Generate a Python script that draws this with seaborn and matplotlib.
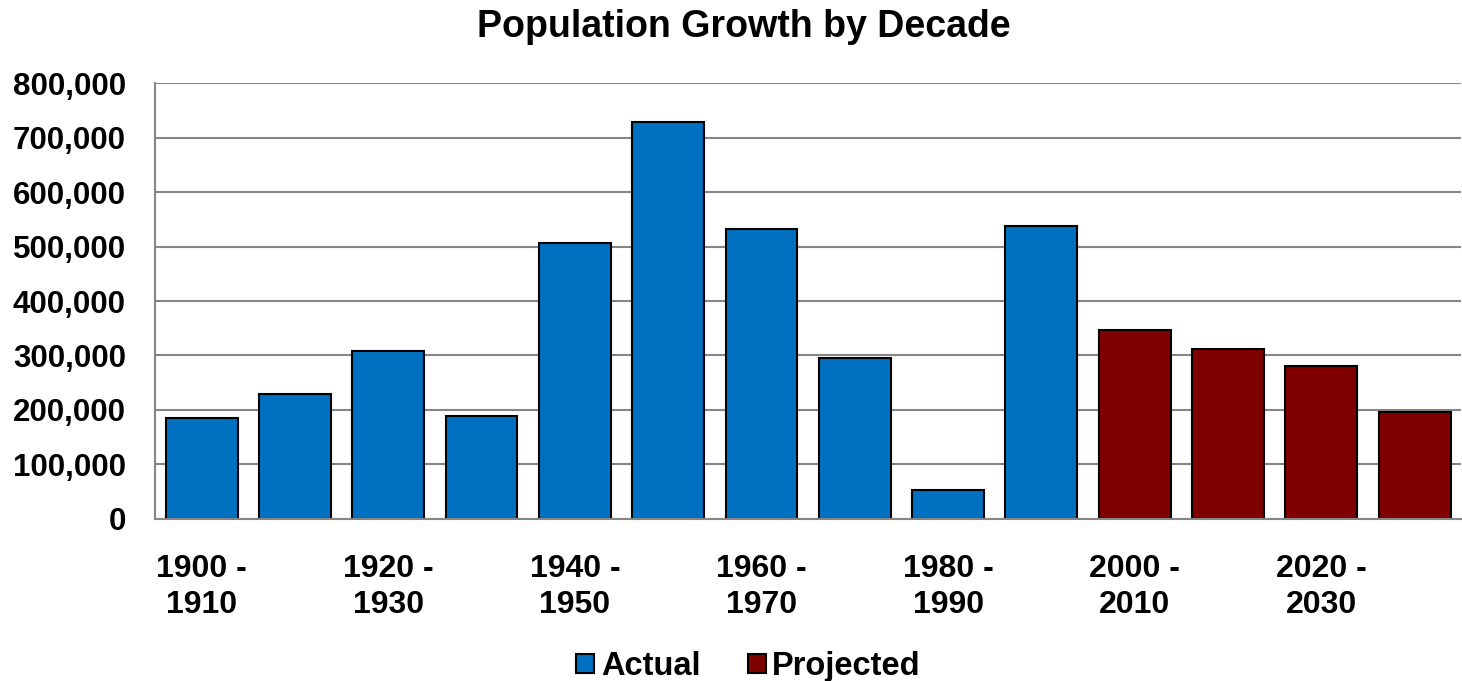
import numpy as np
import pandas as pd
import seaborn as sns
import matplotlib.pyplot as plt
from matplotlib.ticker import FuncFormatter

# Decade growth
decades = ["1900 -\n1910", "1910 -\n1920", "1920 -\n1930", "1930 -\n1940",
           "1940 -\n1950", "1950 -\n1960", "1960 -\n1970", "1970 -\n1980",
           "1980 -\n1990", "1990 -\n2000", "2000 -\n2010", "2010 -\n2020",
           "2020 -\n2030", "2030 -\n2040"]
growth = [185000, 229000, 308000, 189000, 507000, 729000, 533000,
          295000, 53000, 537000, 347000, 312000, 280000, 196000]
series = ["Actual"] * 10 + ["Projected"] * 4
colors = {"Actual": "#0070C0", "Projected": "#800000"}

sns.set_theme(style="white")
plt.rcParams["font.family"] = ["Liberation Sans", "DejaVu Sans"]
plt.rcParams["font.weight"] = "bold"
plt.rcParams["text.color"] = "black"
plt.rcParams["xtick.labelcolor"] = "black"
plt.rcParams["ytick.labelcolor"] = "black"

df = pd.DataFrame({"decade": decades, "growth": growth, "series": series})

fig = plt.figure(figsize=(14.62, 6.81), dpi=100)
ax = fig.add_axes([0.106, 0.238, 0.8935, 0.64])

sns.barplot(data=df, x="decade", y="growth", hue="series", palette=colors,
            dodge=False, width=0.77, edgecolor="black", linewidth=1.5,
            saturation=1, ax=ax)

grey = "#868686"
ax.set_ylim(0, 800000)
ax.set_xlim(-0.5, len(decades) - 0.5)
ax.set_yticks(np.arange(0, 800001, 100000))
ax.yaxis.set_major_formatter(FuncFormatter(lambda v, p: "{:,.0f}".format(v)))
ax.yaxis.grid(True, color=grey, linewidth=1.5)
ax.set_axisbelow(True)
for s in ["top", "right"]:
    ax.spines[s].set_visible(False)
for s in ["left", "bottom"]:
    ax.spines[s].set_color(grey)
    ax.spines[s].set_linewidth(1.5)

# every other category gets a label, ticks sit between categories
ax.set_xticks(range(0, len(decades), 2))
ax.set_xticklabels(decades[::2], fontsize=23, fontweight="bold", linespacing=1.27,
                   color="black")
ax.set_xticks(np.arange(-0.5, len(decades), 1), minor=True)
ax.tick_params(axis="x", which="major", length=0, pad=25)
ax.tick_params(axis="x", which="minor", length=9, width=1.5, color=grey, direction="out")
ax.tick_params(axis="y", length=9, width=1.5, color=grey, direction="out", pad=12,
               labelsize=22.5, labelcolor="black")
for t in ax.get_yticklabels():
    t.set_fontweight("bold")
ax.set_xlabel("")
ax.set_ylabel("")

handles, labels = ax.get_legend_handles_labels()
ax.get_legend().remove()
leg = fig.legend(handles, labels, loc="center", bbox_to_anchor=(0.512, 0.021), ncol=2,
                 frameon=False, prop={"size": 23.5, "weight": "bold"},
                 handlelength=0.55, handleheight=0.55, handletextpad=0.2,
                 columnspacing=1.45)
for t in leg.get_texts():
    t.set_color("black")

fig.text(0.509, 0.96, "Population Growth by Decade", ha="center", va="center",
         fontsize=27, fontweight="bold", color="black")

plt.savefig("out.png", dpi=100)
